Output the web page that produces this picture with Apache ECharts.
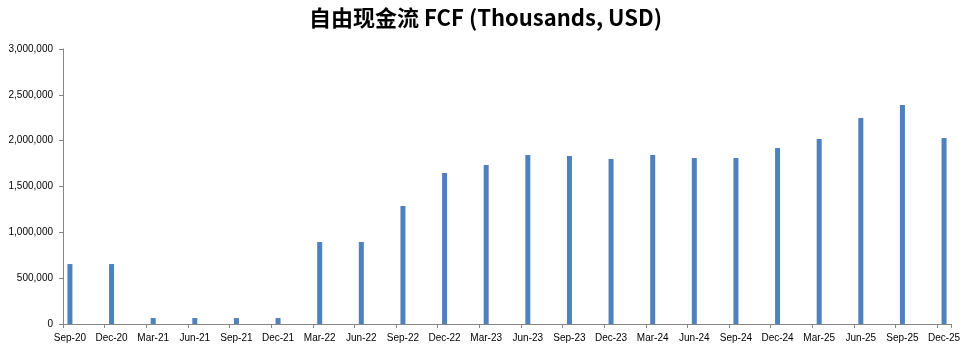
<!DOCTYPE html>
<html>
<head>
<meta charset="utf-8">
<script src="https://cdn.jsdelivr.net/npm/echarts@6/dist/echarts.min.js"></script>
<style>
html,body{margin:0;padding:0;background:#fff;}
#chart{width:971px;height:351px;}
</style>
</head>
<body>
<div id="chart"></div>
<script>
// Quarter labels (x axis tick labels)
var quarters = ['Sep-20','Dec-20','Mar-21','Jun-21','Sep-21','Dec-21','Mar-22','Jun-22','Sep-22','Dec-22','Mar-23','Jun-23','Sep-23','Dec-23','Mar-24','Jun-24','Sep-24','Dec-24','Mar-25','Jun-25','Sep-25','Dec-25'];
// Free cash flow values (thousands USD)
var fcfValues = [654000, 654000, 65000, 65000, 65000, 65000, 895000, 895000, 1287000, 1647000, 1735000, 1844000, 1833000, 1800000, 1844000, 1811000, 1811000, 1920000, 2018000, 2247000, 2389000, 2029000];
// Y axis ticks
var yMin = 0, yMax = 3000000, yStep = 500000;
var titleText = '自由现金流 FCF (Thousands, USD)';

// Date-like axis: each quarter occupies a month slot, with two empty month slots in between
var monthCats = [];
var monthData = [];
for (var i = 0; i < quarters.length; i++) {
  monthCats.push(quarters[i]);
  monthData.push(fcfValues[i]);
  if (i < quarters.length - 1) {
    monthCats.push(quarters[i] + '_a');
    monthData.push('-');
    monthCats.push(quarters[i] + '_b');
    monthData.push('-');
  }
}

var axisColor = '#868686';
var chart = echarts.init(document.getElementById('chart'));
chart.setOption({
  animation: false,
  title: {
    text: titleText,
    left: 'center',
    top: 2,
    textStyle: {
      fontFamily: '"Noto Sans CJK SC", sans-serif',
      fontSize: 22,
      fontWeight: 'bold',
      color: '#000'
    }
  },
  grid: { left: 63, right: 20, top: 49, bottom: 27, containLabel: false },
  xAxis: {
    type: 'category',
    data: monthCats,
    boundaryGap: true,
    axisLine: { show: true, lineStyle: { color: axisColor, width: 1 } },
    axisTick: { show: true, interval: 2, length: 4, alignWithLabel: false, lineStyle: { color: axisColor } },
    axisLabel: {
      interval: 2,
      margin: 9,
      fontFamily: '"Liberation Sans", Arial, sans-serif',
      fontSize: 10,
      color: '#000',
      formatter: function (v) { return v.indexOf('_') >= 0 ? '' : v; }
    },
    splitLine: { show: false }
  },
  yAxis: {
    type: 'value',
    min: yMin,
    max: yMax,
    interval: yStep,
    axisLine: { show: true, lineStyle: { color: axisColor, width: 1 } },
    axisTick: { show: true, length: 4, lineStyle: { color: axisColor } },
    axisLabel: {
      margin: 10,
      fontFamily: '"Liberation Sans", Arial, sans-serif',
      fontSize: 10,
      color: '#000',
      formatter: function (v) { return v.toLocaleString('en-US'); }
    },
    splitLine: { show: false }
  },
  series: [{
    type: 'bar',
    data: monthData,
    barWidth: 5,
    itemStyle: { color: '#4F81BD' }
  }]
});
</script>
</body>
</html>
